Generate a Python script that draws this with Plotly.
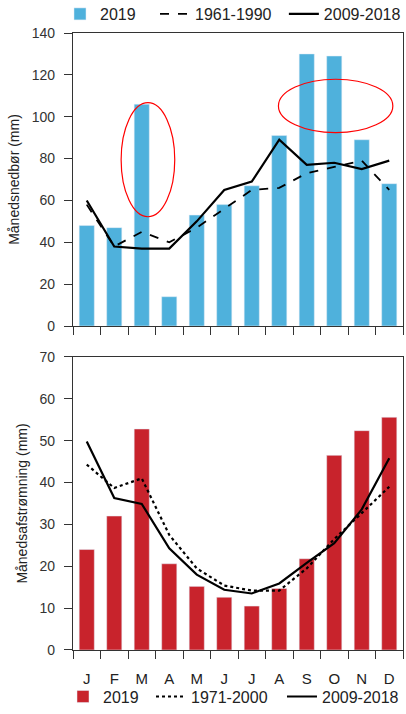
import plotly.graph_objects as go

months = ["Jan", "Feb", "Mar", "Apr", "May", "Jun", "Jul", "Aug", "Sep", "Oct", "Nov", "Dec"]
month_letters = ["J", "F", "M", "A", "M", "J", "J", "A", "S", "O", "N", "D"]

precip_2019 = [48, 47, 106, 14, 53, 58, 67, 91, 130, 129, 89, 68]
precip_1961_1990 = [58, 38, 45, 40, 47, 56, 65, 66, 73, 76, 79, 65]
precip_2009_2018 = [60, 38, 37, 37, 50, 65, 69, 89, 77, 78, 75, 79]

runoff_2019 = [24, 32, 52.8, 20.6, 15.2, 12.6, 10.5, 14.7, 21.8, 46.5, 52.4, 55.6]
runoff_1971_2000 = [44.3, 38.7, 41, 27.5, 19.5, 15.4, 14.2, 14.2, 19.5, 26.5, 32.7, 39]
runoff_2009_2018 = [49.8, 36.3, 34.9, 24.3, 18, 14.4, 13.5, 15.9, 20.8, 25.5, 33.6, 45.8]

BLUE = "#4FB1DC"
RED = "#C8232C"
FONT = "Liberation Sans, Arial, sans-serif"

fig = go.Figure()

fig.add_trace(go.Bar(x=months, y=precip_2019, name="2019", marker_color=BLUE,
                     xaxis="x", yaxis="y", legend="legend"))
fig.add_trace(go.Scatter(x=months, y=precip_1961_1990, name="1961-1990", mode="lines",
                         line=dict(color="black", width=1.8, dash="dash"),
                         xaxis="x", yaxis="y", legend="legend2"))
fig.add_trace(go.Scatter(x=months, y=precip_2009_2018, name="2009-2018", mode="lines",
                         line=dict(color="black", width=2.2),
                         xaxis="x", yaxis="y", legend="legend3"))

fig.add_trace(go.Bar(x=months, y=runoff_2019, name="2019", marker_color=RED,
                     xaxis="x2", yaxis="y2", legend="legend4"))
fig.add_trace(go.Scatter(x=months, y=runoff_1971_2000, name="1971-2000", mode="lines",
                         line=dict(color="black", width=2.2, dash="dot"),
                         xaxis="x2", yaxis="y2", legend="legend5"))
fig.add_trace(go.Scatter(x=months, y=runoff_2009_2018, name="2009-2018", mode="lines",
                         line=dict(color="black", width=2.2),
                         xaxis="x2", yaxis="y2", legend="legend6"))

axis_common = dict(showline=True, linecolor="#333", linewidth=1.2, mirror=True,
                   ticks="outside", ticklen=8, tickcolor="#333", showgrid=False,
                   zeroline=False, tickfont=dict(color="#333"))

xcommon = dict(axis_common, type="category", categoryorder="array", categoryarray=months,
               tickson="boundaries", tickmode="array", tickvals=months, ticktext=month_letters,
               range=[-0.5, 11.5])


def leg(x, y):
    return dict(orientation="h", x=x, y=y, xanchor="left", yanchor="middle",
                font=dict(size=16, color="#222"), bgcolor="rgba(0,0,0,0)", itemwidth=30)


fig.update_layout(
    width=406, height=714,
    margin=dict(l=73, r=3, t=33, b=64, autoexpand=False),
    paper_bgcolor="white", plot_bgcolor="white",
    font=dict(family=FONT, size=14, color="#222"),
    bargap=0.45,
    showlegend=True,
    xaxis=dict(xcommon, domain=[0, 1], anchor="y", showticklabels=False),
    yaxis=dict(axis_common, domain=[0.5251, 1.0], anchor="x", range=[0, 140],
               tickvals=[0, 20, 40, 60, 80, 100, 120, 140], ticklabelstandoff=6,
               title=dict(text="Månedsnedbør (mm)", font=dict(size=14), standoff=8)),
    xaxis2=dict(xcommon, domain=[0, 1], anchor="y2", showticklabels=True,
                tickfont=dict(size=15, color="#222"), ticklabelstandoff=15),
    yaxis2=dict(axis_common, domain=[0, 0.4749], anchor="x2", range=[0, 70],
                tickvals=[0, 10, 20, 30, 40, 50, 60, 70], ticklabelstandoff=6,
                title=dict(text="Månedsafstrømning (mm)", font=dict(size=14), standoff=8)),
    legend=leg(-0.0394, 1.0308),
    legend2=leg(0.2485, 1.0308),
    legend3=leg(0.639, 1.0308),
    legend4=leg(-0.0303, -0.0755),
    legend5=leg(0.2364, -0.0755),
    legend6=leg(0.6333, -0.0755),
    shapes=[
        dict(type="circle", xref="x", yref="y", x0=1.25, x1=3.2, y0=52.2, y1=106.7,
             line=dict(color="red", width=1.2)),
        dict(type="circle", xref="x", yref="y", x0=6.97, x1=11.13, y0=92.4, y1=117.9,
             line=dict(color="red", width=1.2)),
    ],
)

fig.write_html("out.html", config={"displayModeBar": False},
               post_script="document.body.style.margin='0px';")
